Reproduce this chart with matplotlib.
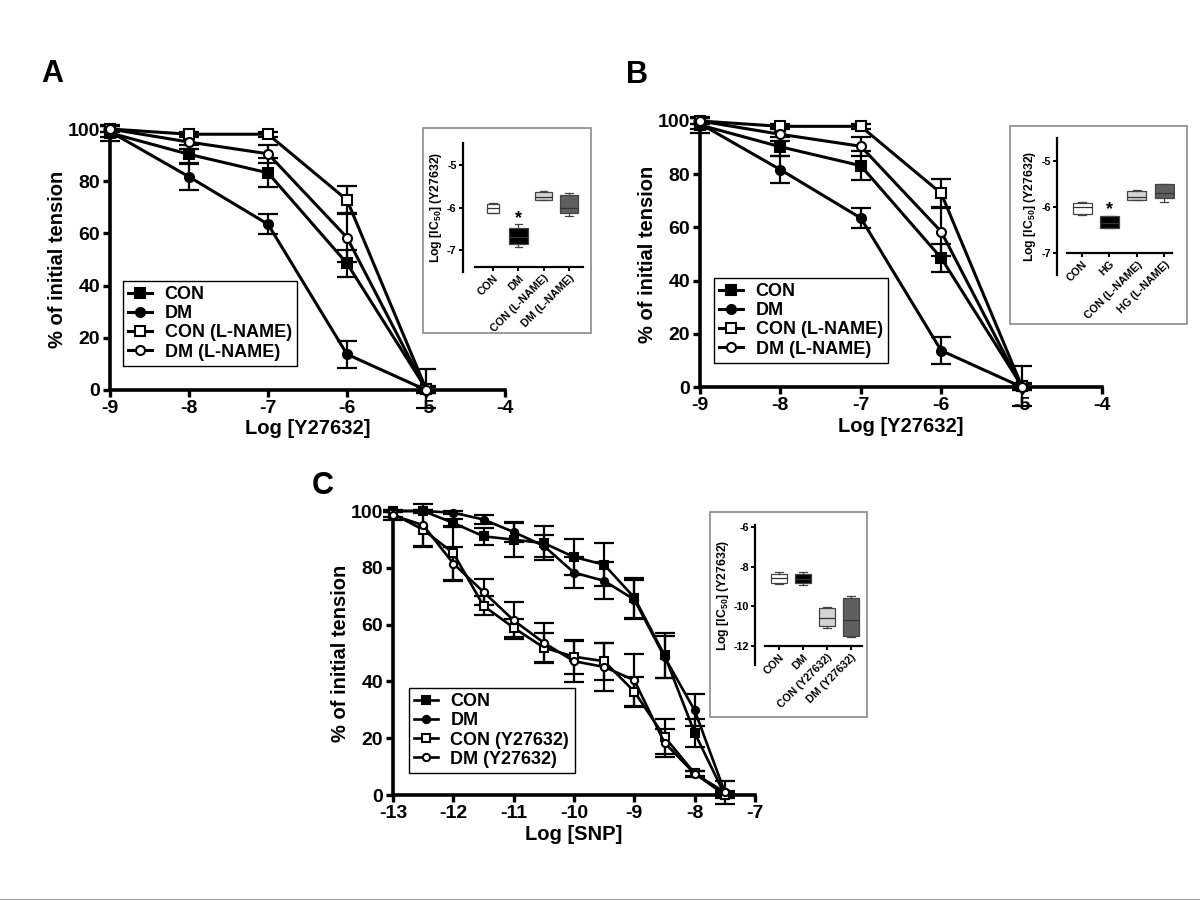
import matplotlib
matplotlib.use("Agg")
import matplotlib.pyplot as plt
from matplotlib.patches import Rectangle
from matplotlib.lines import Line2D

plt.rcParams['font.family'] = ['Liberation Sans', 'DejaVu Sans']
plt.rcParams['font.weight'] = 'bold'
plt.rcParams['axes.labelweight'] = 'bold'
plt.rcParams['axes.unicode_minus'] = False
plt.rcParams['mathtext.fontset'] = 'custom'
plt.rcParams['mathtext.bf'] = 'Liberation Sans:bold'
plt.rcParams['mathtext.rm'] = 'Liberation Sans:bold'
plt.rcParams['mathtext.default'] = 'bf'

# ---------------- data: panels A and B (Y27632 concentration-response) -------------
x_y27 = [-9, -8, -7, -6, -5]
con_y27 = [98.5, 90.3, 83.2, 48.5, 0.5]
con_y27_err = [3.0, 3.5, 5.5, 5.2, 1.0]
dm_y27 = [99.0, 81.7, 63.5, 13.7, 0.0]
dm_y27_err = [2.0, 5.0, 3.8, 5.2, 1.0]
con_lname = [100.0, 98.0, 98.0, 72.8, 0.5]
con_lname_err = [1.0, 1.0, 1.0, 5.5, 7.5]
dm_lname = [100.0, 95.0, 90.5, 58.4, 0.0]
dm_lname_err = [1.0, 2.5, 3.5, 9.3, 1.0]
labels_ab = ['CON', 'DM', 'CON (L-NAME)', 'DM (L-NAME)']

# ---------------- data: panel C (SNP concentration-response) -----------------------
x_snp = [-13, -12.5, -12, -11.5, -11, -10.5, -10, -9.5, -9, -8.5, -8, -7.5]
con_snp = [100, 100, 95.8, 91.1, 89.9, 88.7, 83.8, 81.1, 69.5, 49.2, 21.9, 0.0]
con_snp_err = [0.5, 0.5, 1.5, 3.0, 6.0, 6.0, 6.3, 7.5, 7.0, 8.0, 5.0, 1.0]
dm_snp = [100, 100, 99.4, 97.0, 92.6, 87.7, 78.3, 75.4, 68.8, 48.6, 29.8, 1.0]
dm_snp_err = [0.5, 0.5, 0.5, 1.5, 3.5, 4.0, 5.5, 6.5, 7.0, 7.5, 5.6, 4.0]
cony_snp = [99.0, 93.4, 85.2, 66.6, 58.9, 51.9, 48.7, 47.1, 36.4, 20.5, 7.6, 0.0]
cony_snp_err = [1.0, 6.0, 9.5, 3.3, 3.2, 5.2, 6.0, 6.5, 5.3, 6.1, 1.0, 0.5]
dmy_snp = [98.5, 95.0, 81.5, 71.5, 61.5, 53.6, 47.1, 45.1, 40.4, 18.4, 7.5, 1.0]
dmy_snp_err = [1.5, 7.4, 6.0, 4.7, 6.5, 7.0, 7.2, 8.5, 9.2, 5.0, 1.0, 0.5]
labels_c = ['CON', 'DM', 'CON (Y27632)', 'DM (Y27632)']

# ---------------- data: inset box plots (log IC50) ---------------------------------
insA_cats = ['CON', 'DM', 'CON (L-NAME)', 'DM (L-NAME)']
insA_whislo = [-6.14, -6.93, -5.82, -6.20]
insA_q1 = [-6.12, -6.86, -5.82, -6.13]
insA_med = [-6.00, -6.70, -5.75, -6.00]
insA_q3 = [-5.92, -6.48, -5.64, -5.71]
insA_whishi = [-5.90, -6.39, -5.62, -5.66]

insB_cats = ['CON', 'HG', 'CON (L-NAME)', 'HG (L-NAME)']
insB_whislo = [-6.17, -6.46, -5.85, -5.90]
insB_q1 = [-6.15, -6.46, -5.85, -5.80]
insB_med = [-6.00, -6.35, -5.78, -5.70]
insB_q3 = [-5.91, -6.20, -5.65, -5.50]
insB_whishi = [-5.90, -6.20, -5.63, -5.50]

insC_cats = ['CON', 'DM', 'CON (Y27632)', 'DM (Y27632)']
insC_whislo = [-8.87, -8.93, -11.07, -11.55]
insC_q1 = [-8.80, -8.80, -11.00, -11.48]
insC_med = [-8.58, -8.60, -10.60, -10.68]
insC_q3 = [-8.35, -8.35, -10.10, -9.60]
insC_whishi = [-8.27, -8.27, -10.05, -9.47]

box_colors = ['white', 'black', '#d4d4d4', '#5f5f5f']

W, H = 1200, 900
fig = plt.figure(figsize=(12, 9), dpi=100)


def rect(l, t, r, b):
    return [l / W, 1 - b / H, (r - l) / W, (b - t) / H]


markers = [('s', 'black'), ('o', 'black'), ('s', 'white'), ('o', 'white')]


def main_panel(box, xs, series, errs, labels, xlim, xticks, xlabel, leg_anchor,
               ms=6.5, lw=2.2):
    ax = fig.add_axes(rect(*box))
    handles = []
    for ys, es, (mk, fc), lab in zip(series, errs, markers, labels):
        ax.errorbar(xs, ys, yerr=es, fmt='none', ecolor='black',
                    elinewidth=1.6, capsize=7, capthick=1.6, clip_on=False,
                    zorder=2)
        h, = ax.plot(xs, ys, color='black', lw=lw, marker=mk, mfc=fc,
                     mec='black', mew=1.5, ms=ms, clip_on=False, zorder=3,
                     label=lab)
        handles.append(h)
    ax.set_xlim(*xlim)
    ax.set_ylim(0, 100)
    ax.set_xticks(xticks)
    ax.set_yticks([0, 20, 40, 60, 80, 100])
    for s in ['top', 'right']:
        ax.spines[s].set_visible(False)
    for s in ['left', 'bottom']:
        ax.spines[s].set_linewidth(2.6)
    ax.tick_params(width=2.4, length=5, labelsize=14, pad=2)
    for t in ax.get_xticklabels() + ax.get_yticklabels():
        t.set_fontweight('bold')
    ax.set_xlabel(xlabel, fontsize=14.5, labelpad=2)
    ax.set_ylabel('% of initial tension', fontsize=14.5, labelpad=1)
    leg = ax.legend(handles=handles, loc='lower left', bbox_to_anchor=leg_anchor,
                    borderaxespad=0,
                    prop={'size': 13, 'weight': 'bold'}, handlelength=1.3,
                    handletextpad=0.7, labelspacing=0.12, borderpad=0.3,
                    fancybox=False, framealpha=1, edgecolor='black')
    leg.get_frame().set_linewidth(1.0)
    return ax


def inset(frame, box, xlim, ylim, yticks, xaxis_y, xbounds, cats, lo, q1, med, q3, hi,
          widths, star=None):
    fig.patches.append(Rectangle((frame[0] / W, 1 - frame[3] / H),
                                 (frame[2] - frame[0]) / W, (frame[3] - frame[1]) / H,
                                 transform=fig.transFigure, fill=False,
                                 edgecolor='#8a8a8a', lw=1.2))
    ax = fig.add_axes(rect(*box))
    ax.patch.set_alpha(0)
    for s in ['top', 'right']:
        ax.spines[s].set_visible(False)
    ax.spines['bottom'].set_position(('data', xaxis_y))
    stats = [dict(whislo=a, q1=b, med=c, q3=d, whishi=e, fliers=[])
             for a, b, c, d, e in zip(lo, q1, med, q3, hi)]
    pos = list(range(len(cats)))
    bp = ax.bxp(stats, positions=pos, widths=widths, patch_artist=True,
                showfliers=False, capwidths=[0.3] * len(cats),
                boxprops=dict(linewidth=0.9, edgecolor='#444444'),
                medianprops=dict(color='#333333', linewidth=0.9),
                whiskerprops=dict(color='#444444', linewidth=0.9),
                capprops=dict(color='#444444', linewidth=0.9))
    for patch, c in zip(bp['boxes'], box_colors):
        patch.set_facecolor(c)
    ax.set_xlim(*xlim)
    ax.set_ylim(*ylim)
    ax.spines['bottom'].set_bounds(*xbounds)
    for s in ['left', 'bottom']:
        ax.spines[s].set_linewidth(1.6)
    ax.set_yticks(yticks)
    ax.set_yticklabels([f'{v:g}' for v in yticks])
    ax.set_xticks(pos)
    ax.set_xticklabels(cats, rotation=45, ha='right', rotation_mode='anchor')
    ax.tick_params(width=1.4, length=3, labelsize=7.8, pad=1.5)
    for t in ax.get_xticklabels() + ax.get_yticklabels():
        t.set_fontweight('bold')
    ax.set_ylabel('Log [IC$_{50}$] (Y27632)', fontsize=8.8, labelpad=2)
    if star is not None:
        ax.text(star[0], star[1], '*', ha='center', va='center', fontsize=13,
                fontweight='bold')
    return ax


# Panel A
main_panel((110, 129, 505, 390), x_y27,
           [con_y27, dm_y27, con_lname, dm_lname],
           [con_y27_err, dm_y27_err, con_lname_err, dm_lname_err],
           labels_ab, (-9, -4), [-9, -8, -7, -6, -5, -4], 'Log [Y27632]',
           (0.033, 0.092))
# Panel B
main_panel((700, 121, 1102, 387), x_y27,
           [con_y27, dm_y27, con_lname, dm_lname],
           [con_y27_err, dm_y27_err, con_lname_err, dm_lname_err],
           labels_ab, (-9, -4), [-9, -8, -7, -6, -5, -4], 'Log [Y27632]',
           (0.035, 0.09))
# Panel C
main_panel((393, 511, 755, 795), x_snp,
           [con_snp, dm_snp, cony_snp, dmy_snp],
           [con_snp_err, dm_snp_err, cony_snp_err, dmy_snp_err],
           labels_c, (-13, -7), [-13, -12, -11, -10, -9, -8, -7], 'Log [SNP]',
           (0.044, 0.077), ms=5.2, lw=1.9)

# Insets
inset((423, 128, 591, 333), (463, 143, 584, 272), (-1.19, 3.6), (-7.52, -4.48),
      [-7, -6, -5], -7.4, (-0.71, 3.56), insA_cats,
      insA_whislo, insA_q1, insA_med, insA_q3, insA_whishi,
      [0.5, 0.75, 0.7, 0.7], star=(1, -6.27))
inset((1010, 126, 1187, 324), (1057, 138, 1175, 275), (-0.92, 3.4), (-7.48, -4.5),
      [-7, -6, -5], -7.0, (-0.55, 3.3), insB_cats,
      insB_whislo, insB_q1, insB_med, insB_q3, insB_whishi,
      [0.7, 0.7, 0.7, 0.7], star=(1, -6.05))
inset((710, 512, 867, 717), (755, 525, 865, 665), (-1.0, 3.58), (-12.96, -5.9),
      [-12, -10, -8, -6], -12.0, (-0.58, 3.46), insC_cats,
      insC_whislo, insC_q1, insC_med, insC_q3, insC_whishi,
      [0.7, 0.7, 0.7, 0.7])

# Panel letters
for lab, (x, y) in {'A': (52, 74), 'B': (637, 75), 'C': (323, 486)}.items():
    fig.text(x / W, 1 - y / H, lab, ha='center', va='center', fontsize=22,
             fontweight='bold')

# bottom grey rule
fig.add_artist(Line2D([0, 1], [0.5 / H, 0.5 / H], transform=fig.transFigure,
                      color='#909090', lw=2))

fig.savefig('out.png', dpi=100, facecolor='white')
